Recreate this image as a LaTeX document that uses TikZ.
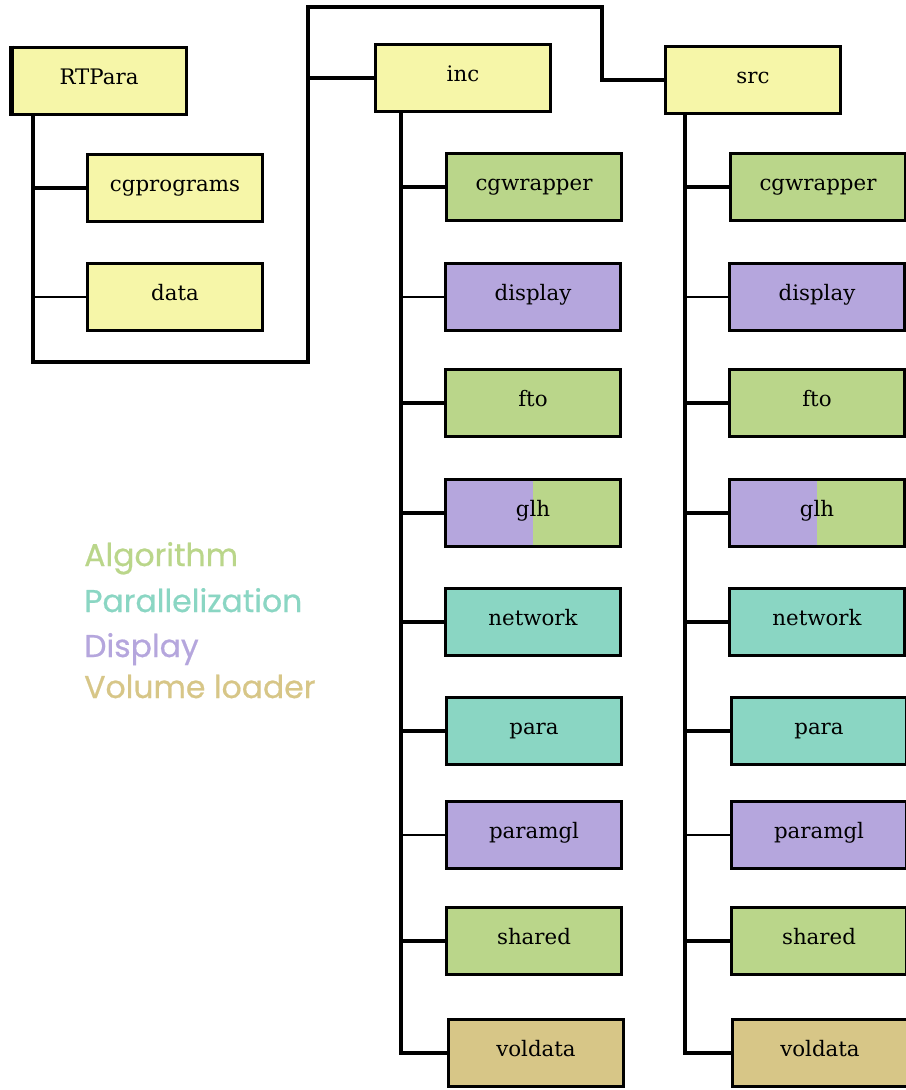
\documentclass[tikz,border=0pt]{standalone}
\usepackage{fontspec}
\setmainfont{DejaVu Serif}
\newfontfamily\legendfont[FakeBold=0.6]{Poppins}
\definecolor{cAlg}{HTML}{BAD68A}
\definecolor{cPar}{HTML}{8AD6C3}
\definecolor{cDisp}{HTML}{B5A6DD}
\definecolor{cVol}{HTML}{D7C687}
\definecolor{cDir}{HTML}{F6F6A8}
\tikzset{
  dirbox/.style={draw=black, line width=2.6pt, minimum width=131.5pt, minimum height=50.5pt,
    inner sep=0pt, text height=11pt, text depth=6pt, font=\fontsize{16}{18}\selectfont},
  alg/.style={dirbox, fill=cAlg},
  par/.style={dirbox, fill=cPar},
  disp/.style={dirbox, fill=cDisp},
  vol/.style={dirbox, fill=cVol},
  top/.style={dirbox, fill=cDir},
  split/.style={dirbox, path picture={
      \fill[cDisp] (path picture bounding box.south west) rectangle (path picture bounding box.north);
      \fill[cAlg] (path picture bounding box.south) rectangle (path picture bounding box.north east);}},
  conn/.style={line width=2.4pt},
  thinconn/.style={line width=0.9pt},
  legend/.style={anchor=base west, inner sep=0pt, font=\legendfont\fontsize{23.6}{25}\selectfont}
}
\begin{document}
\begin{tikzpicture}[x=0.75pt, y=-0.75pt]
\useasboundingbox (0,0) rectangle (906,1090);
\clip (0,0) rectangle (906,1090);
\fill[white] (0,0) rectangle (906,1090);

% top-level folders
\node[top] (RTPara) at (99,81) {RTPara};
\draw[line width=4pt] ([xshift=1.5pt]RTPara.north west) -- ([xshift=1.5pt]RTPara.south west);
\node[top] (cgprograms) at (175,188) {cgprograms};
\node[top] (data) at (175,297) {data};
\node[top] (inc) at (463,78) {inc};
\node[top] (src) at (753,80) {src};

% inc subfolders
\node[alg]   (i1) at (534,187) {cgwrapper};
\node[disp]  (i2) at (533,297) {display};
\node[alg]   (i3) at (533,403) {fto};
\node[split] (i4) at (533,513) {glh};
\node[par]   (i5) at (533,622) {network};
\node[par]   (i6) at (534,731) {para};
\node[disp]  (i7) at (534,835) {paramgl};
\node[alg]   (i8) at (534,941) {shared};
\node[vol]   (i9) at (536,1053) {voldata};

% src subfolders
\node[alg]   (s1) at (818,187) {cgwrapper};
\node[disp]  (s2) at (817,297) {display};
\node[alg]   (s3) at (817,403) {fto};
\node[split] (s4) at (817,513) {glh};
\node[par]   (s5) at (817,622) {network};
\node[par]   (s6) at (819,731) {para};
\node[disp]  (s7) at (819,835) {paramgl};
\node[alg]   (s8) at (819,941) {shared};
\node[vol]   (s9) at (820,1053) {voldata};

% routing corners
\coordinate (rtA) at (33,362);
\coordinate (rtB) at (308,362);
\coordinate (rtC) at (308,7);
\coordinate (rtD) at (602,7);
\coordinate (incT) at (401,0);
\coordinate (srcT) at (685,0);

% RTPara tree
\draw[conn] (RTPara.south -| rtA) -- (rtA) -- (rtB) -- (rtC) -- (rtD) |- (src.west);
\draw[conn] (rtB |- inc.west) -- (inc.west);
\draw[conn] (rtA |- cgprograms.west) -- (cgprograms.west);
\draw[thinconn] (rtA |- data.west) -- (data.west);

% inc tree
\draw[conn] (inc.south -| incT) |- (i9.west);
\foreach \n in {i1,i3,i4,i5,i6,i8} \draw[conn] (incT |- \n.west) -- (\n.west);
\foreach \n in {i2,i7} \draw[thinconn] (incT |- \n.west) -- (\n.west);

% src tree
\draw[conn] (src.south -| srcT) |- (s9.west);
\foreach \n in {s1,s3,s4,s5,s6,s8} \draw[conn] (srcT |- \n.west) -- (\n.west);
\foreach \n in {s2,s7} \draw[thinconn] (srcT |- \n.west) -- (\n.west);

% legend
\node[legend, text=cAlg]  (lAlg)  at (84,566) {Algorithm};
\node[legend, text=cPar]  (lPar)  at (84,612) {Parallelization};
\node[legend, text=cDisp] (lDisp) at (84,657) {Display};
\node[legend, text=cVol]  (lVol)  at (84,698) {Volume loader};
\end{tikzpicture}
\end{document}
